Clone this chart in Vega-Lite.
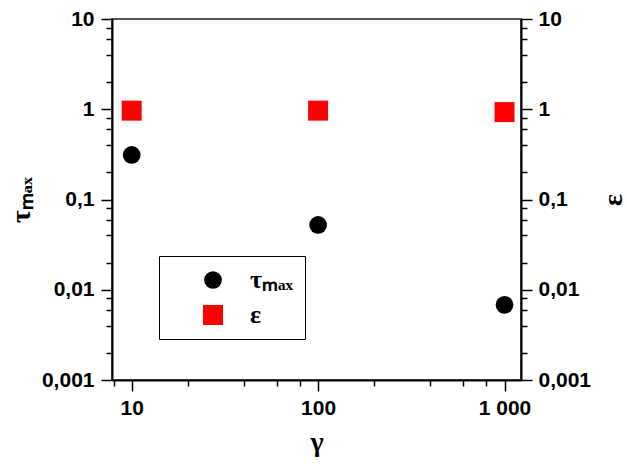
{
  "$schema": "https://vega.github.io/schema/vega-lite/v6.json",
  "autosize": "none",
  "padding": {"left": 112, "top": 19, "right": 106, "bottom": 86},
  "width": 409,
  "height": 361,
  "background": "white",
  "config": {
    "view": {"stroke": "#555555", "strokeWidth": 2},
    "axis": {
      "grid": false,
      "domainColor": "black",
      "domainWidth": 2,
      "tickColor": "black",
      "tickWidth": 1.5,
      "labelFont": "Liberation Sans",
      "labelFontWeight": "bold",
      "labelFontSize": 21,
      "labelColor": "black",
      "titleFont": "Liberation Serif",
      "titleFontWeight": "bold",
      "titleFontSize": 28,
      "titleColor": "black"
    },
    "legend": {
      "labelFont": "Liberation Serif",
      "labelFontWeight": "bold",
      "labelFontSize": 26,
      "labelColor": "black",
      "symbolStrokeWidth": 0
    }
  },
  "datasets": {
    "tau": [
      {"gamma": 10, "series": "τₘₐₓ", "value": 0.312},
      {"gamma": 100, "series": "τₘₐₓ", "value": 0.0523},
      {"gamma": 1000, "series": "τₘₐₓ", "value": 0.0068}
    ],
    "eps": [
      {"gamma": 10, "series": "ε", "value": 0.965},
      {"gamma": 100, "series": "ε", "value": 0.965},
      {"gamma": 1000, "series": "ε", "value": 0.93}
    ]
  },
  "layer": [
    {
      "data": {"name": "tau"},
      "mark": {"type": "point", "filled": true, "opacity": 1},
      "encoding": {
        "x": {"field": "gamma", "type": "quantitative",
          "scale": {"type": "log", "domain": [7.84, 1226], "nice": false},
          "axis": {"orient": "bottom", "values": [10, 100, 1000], "tickSize": 11, "labelPadding": 6,
            "labelExpr": "replace(format(datum.value, ','), ',', ' ')", "title": "γ", "titlePadding": 10}},
        "y": {"field": "value", "type": "quantitative",
          "scale": {"type": "log", "domain": [0.001, 10], "nice": false},
          "axis": {"orient": "left", "values": [0.001, 0.01, 0.1, 1, 10], "tickSize": 11, "labelPadding": 7,
            "format": "~g", "labelExpr": "replace(datum.label, '.', ',')", "title": "τₘₐₓ", "titlePadding": 6}},
        "color": {"field": "series", "type": "nominal",
          "scale": {"domain": ["τₘₐₓ", "ε"], "range": ["black", "red"]},
          "legend": {"orient": "none", "legendX": 47, "legendY": 237, "title": null,
            "strokeColor": "black", "fillColor": "white", "padding": 11,
            "symbolOffset": 30, "labelOffset": 24, "rowPadding": 9}},
        "shape": {"field": "series", "type": "nominal",
          "scale": {"domain": ["τₘₐₓ", "ε"], "range": ["circle", "square"]}},
        "size": {"field": "series", "type": "nominal",
          "scale": {"domain": ["τₘₐₓ", "ε"], "range": [314, 400]}}
      }
    },
    {
      "data": {"name": "eps"},
      "mark": {"type": "point", "filled": true, "opacity": 1},
      "encoding": {
        "x": {"field": "gamma", "type": "quantitative",
          "scale": {"type": "log", "domain": [7.84, 1226], "nice": false},
          "axis": {"orient": "bottom", "values": [8, 20, 40, 60, 80, 200, 400, 600, 800], "tickSize": 6,
            "labels": false, "domain": false, "title": null}},
        "y": {"field": "value", "type": "quantitative",
          "scale": {"type": "log", "domain": [0.001, 10], "nice": false},
          "axis": {"orient": "right", "values": [0.001, 0.01, 0.1, 1, 10], "tickSize": 11, "labelPadding": 6,
            "format": "~g", "labelExpr": "replace(datum.label, '.', ',')", "title": "ε",
            "titleAngle": 270, "titleBaseline": "top", "titlePadding": 9}},
        "color": {"field": "series", "type": "nominal",
          "scale": {"domain": ["τₘₐₓ", "ε"], "range": ["black", "red"]}},
        "shape": {"field": "series", "type": "nominal",
          "scale": {"domain": ["τₘₐₓ", "ε"], "range": ["circle", "square"]}},
        "size": {"field": "series", "type": "nominal",
          "scale": {"domain": ["τₘₐₓ", "ε"], "range": [314, 400]}}
      }
    },
    {
      "data": {"name": "tau"},
      "mark": {"type": "point", "opacity": 0},
      "encoding": {
        "x": {"field": "gamma", "type": "quantitative",
          "scale": {"type": "log", "domain": [7.84, 1226], "nice": false}, "axis": null},
        "y": {"field": "value", "type": "quantitative",
          "scale": {"type": "log", "domain": [0.001, 10], "nice": false},
          "axis": {"orient": "left", "values": [0.002, 0.004, 0.006, 0.008, 0.02, 0.04, 0.06, 0.08, 0.2, 0.4, 0.6, 0.8, 2, 4, 6, 8],
            "tickSize": 6, "labels": false, "domain": false, "title": null}}
      }
    },
    {
      "data": {"name": "tau"},
      "mark": {"type": "point", "opacity": 0},
      "encoding": {
        "x": {"field": "gamma", "type": "quantitative",
          "scale": {"type": "log", "domain": [7.84, 1226], "nice": false}, "axis": null},
        "y": {"field": "value", "type": "quantitative",
          "scale": {"type": "log", "domain": [0.001, 10], "nice": false},
          "axis": {"orient": "right", "values": [0.002, 0.004, 0.006, 0.008, 0.02, 0.04, 0.06, 0.08, 0.2, 0.4, 0.6, 0.8, 2, 4, 6, 8],
            "tickSize": 6, "labels": false, "domain": false, "title": null}}
      }
    }
  ],
  "resolve": {"axis": {"x": "independent", "y": "independent"}}
}
